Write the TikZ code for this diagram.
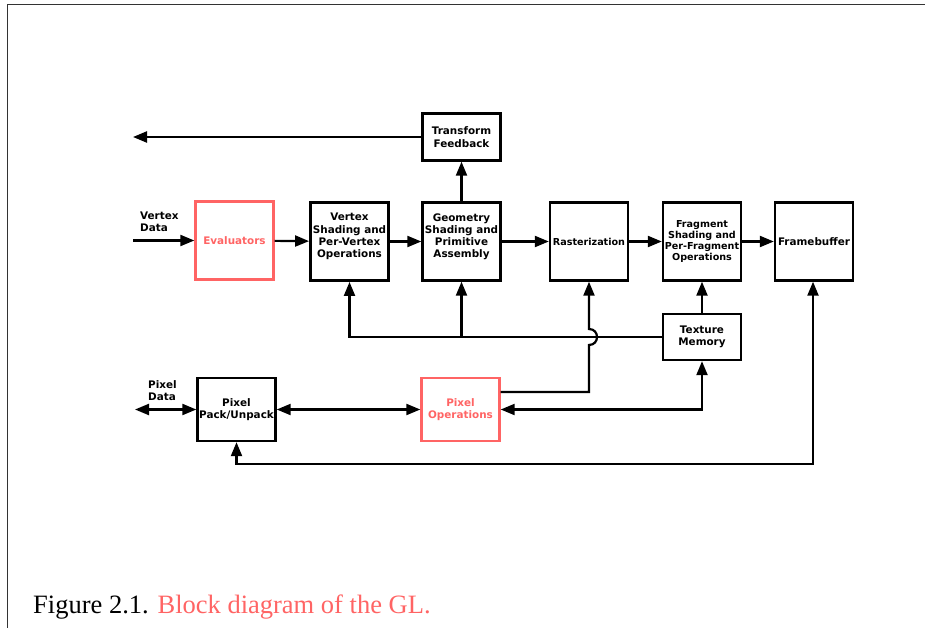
\documentclass[tikz,border=0pt]{standalone}
\usepackage{fontspec}
\setmainfont{Liberation Serif}
\newfontfamily\boxfont{DejaVu Sans}
\usetikzlibrary{arrows.meta,calc,positioning}
\definecolor{glred}{RGB}{255,100,100}

\begin{document}
\begin{tikzpicture}[x=1pt,y=-1pt,
	block/.style={draw,line width=2.4pt,minimum width=78pt,minimum height=78pt,inner sep=0pt,align=center,font=\boxfont\bfseries\fontsize{10.4}{12.3}\selectfont},
	small/.style={font=\boxfont\bfseries\fontsize{9.6}{11}\selectfont},
	redblock/.style={block,draw=glred,text=glred},
	tag/.style={inner sep=0pt,align=left,anchor=west,font=\boxfont\bfseries\fontsize{10.4}{12.3}\selectfont},
	wire/.style={line width=2.2pt},
	>={Triangle[length=14pt,width=11pt]}]
	\useasboundingbox (0,0) rectangle (925,628);
	\draw[line width=1pt,black!80] (7,628) -- (7,5) -- (925,5);
	% Knoten
		\node[redblock] (eval) at (234.5,240.5) {Evaluators};
		\node[block,line width=2.9pt] (vertex) at (349.5,241.5) {Vertex\\Shading and\\Per-Vertex\\Operations\\[-0.5pt]\mbox{}};
		\node[block] (geom) at (461.5,241.5) {Geometry\\Shading and\\Primitive\\Assembly\\[-0.5pt]\mbox{}};
		\node[block,small] (raster) at (589,241.5) {Rasterization};
		\node[block,small] (frag) at (702,241.5) {Fragment\\Shading and\\Per-Fragment\\Operations};
		\node[block] (fb) at (814,241.5) {Framebuffer};
		\node[block,minimum height=47pt] (tf) at (461.5,137) {Transform\\Feedback};
		\node[block,minimum height=46pt] (tex) at (702,337) {Texture\\Memory};
		\node[block,minimum height=63pt] (pack) at (236.5,409.5) {Pixel\\Pack/Unpack};
		\node[redblock,minimum height=63pt] (pixops) at (460.5,409.5) {Pixel\\Operations};
		\node[tag] (vdata) at (140,222) {Vertex\\Data};
		\node[tag] (pdata) at (148,390.5) {Pixel\\Data};
		\coordinate (vin) at (133,240.5);
		\coordinate (tfout) at (133,137);
		\coordinate (pin) at (135,409.5);
		\coordinate (bus) at (0,464);
		\coordinate (hop) at (raster.south |- tex.west);
		\node[anchor=base west,inner sep=0pt,font=\fontsize{26.5}{30}\selectfont] (cap) at (33,613) {Figure 2.1. \textcolor{glred}{Block diagram of the GL.}};
	% Kanten
		\draw[wire,->] (vin) -- (eval);
		\draw[wire,->] (eval) -- (vertex);
		\draw[wire,->] (vertex) -- (geom);
		\draw[wire,->] (geom) -- (raster);
		\draw[wire,->] (raster) -- (frag);
		\draw[wire,->] (frag) -- (fb);
		\draw[wire,->] (geom) -- (tf);
		\draw[wire,->] (tf) -- (tfout);
		\draw[wire,->] (tex) -- (frag);
		\draw[wire,->] (tex.west) -| (vertex.south);
		\draw[wire,->] (tex.west -| geom.south) -- (geom.south);
		\draw[wire,->] ([yshift=17.5pt]pixops.east) -| ([yshift=-8pt]hop)
			.. controls ([xshift=10.7pt,yshift=-8pt]hop) and ([xshift=10.7pt,yshift=8pt]hop) .. ([yshift=8pt]hop)
			-- (raster.south);
		\draw[wire,<->] (pixops.east) -| (tex.south);
		\draw[wire,<->] (pin) -- (pack.west);
		\draw[wire,<->] (pack) -- (pixops);
		\draw[wire,<->] (pack.south) -- (pack.south |- bus) -| ([xshift=-1pt]fb.south);
\end{tikzpicture}
\end{document}
